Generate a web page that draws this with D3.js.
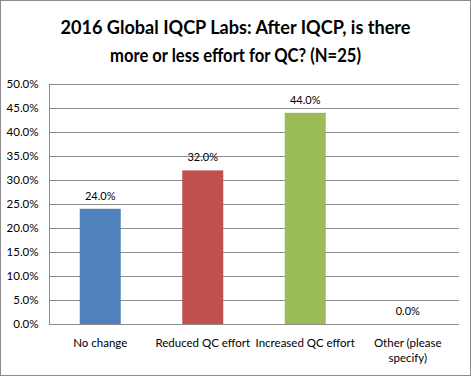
<!DOCTYPE html>
<html>
<head>
<meta charset="utf-8">
<script src="https://cdn.jsdelivr.net/npm/d3@7"></script>
<style>
  body { margin: 0; background: #fff; }
  svg { display: block; font-family: Lato, "Open Sans", sans-serif; }
</style>
</head>
<body>
<div id="wrapper"></div>
<script>
const categories = ["No change", "Reduced QC effort", "Increased QC effort", "Other (please specify)"];
const values = [0.24, 0.32, 0.44, 0.0];
const barColors = ["#4f81bd", "#c0504d", "#9bbb59", "#8064a2"];
const yTicks = [0, 0.05, 0.1, 0.15, 0.2, 0.25, 0.3, 0.35, 0.4, 0.45, 0.5];
const titleLines = ["2016 Global IQCP Labs: After IQCP, is there", "more or less effort for QC? (N=25)"];

const dimensions = {
  width: 471,
  height: 376,
  margin: { top: 84, right: 12, bottom: 52, left: 49 }
};
dimensions.boundedWidth = dimensions.width - dimensions.margin.left - dimensions.margin.right;
dimensions.boundedHeight = dimensions.height - dimensions.margin.top - dimensions.margin.bottom;

const wrapper = d3.select("#wrapper")
  .append("svg")
  .attr("width", dimensions.width)
  .attr("height", dimensions.height);

// outer chart border
wrapper.append("rect")
  .attr("x", 0.5).attr("y", 0.5)
  .attr("width", dimensions.width - 1)
  .attr("height", dimensions.height - 1)
  .attr("fill", "#fff")
  .attr("stroke", "#8c8c8c");

// title widths, font squeezed to fit
const titleWidths = [350, 251];
wrapper.append("g")
  .selectAll("text")
  .data(titleLines)
  .enter().append("text")
  .attr("x", dimensions.width / 2)
  .attr("y", (d, i) => 34 + i * 28)
  .attr("text-anchor", "middle")
  .attr("textLength", (d, i) => titleWidths[i])
  .attr("lengthAdjust", "spacingAndGlyphs")
  .style("font-size", "19px")
  .style("font-weight", "bold")
  .attr("fill", "#000")
  .text(d => d);

const bounds = wrapper.append("g")
  .attr("transform", `translate(${dimensions.margin.left},${dimensions.margin.top})`);

const xScale = d3.scaleBand()
  .domain(categories)
  .range([0, dimensions.boundedWidth])
  .paddingInner(0.6)
  .paddingOuter(0.3);

const yScale = d3.scaleLinear()
  .domain([0, 0.5])
  .range([dimensions.boundedHeight, 0]);

// gridlines
bounds.append("g")
  .selectAll("line")
  .data(yTicks.slice(1))
  .enter().append("line")
  .attr("x1", 0)
  .attr("x2", dimensions.boundedWidth)
  .attr("y1", d => Math.round(yScale(d)) + 0.5)
  .attr("y2", d => Math.round(yScale(d)) + 0.5)
  .attr("stroke", "#8c8c8c");

const yAxis = bounds.append("g")
  .call(d3.axisLeft(yScale).tickValues(yTicks).tickFormat(d3.format(".1%")).tickSize(0).tickPadding(11))
  .attr("transform", "translate(0.5,0)");
yAxis.select(".domain").attr("stroke", "#8c8c8c").attr("d", `M0,${dimensions.boundedHeight}V0`);
yAxis.selectAll("text").style("font-size", "11.5px").attr("fill", "#000").attr("font-family", "Lato, sans-serif");

bounds.append("line")
  .attr("x1", 0)
  .attr("x2", dimensions.boundedWidth)
  .attr("y1", dimensions.boundedHeight + 0.5)
  .attr("y2", dimensions.boundedHeight + 0.5)
  .attr("stroke", "#8c8c8c");

bounds.append("g")
  .selectAll("rect")
  .data(categories)
  .enter().append("rect")
  .attr("x", d => xScale(d))
  .attr("y", (d, i) => yScale(values[i]))
  .attr("width", xScale.bandwidth())
  .attr("height", (d, i) => dimensions.boundedHeight - yScale(values[i]))
  .attr("fill", (d, i) => barColors[i]);

bounds.append("g")
  .selectAll("text")
  .data(categories)
  .enter().append("text")
  .attr("x", d => xScale(d) + xScale.bandwidth() / 2)
  .attr("y", (d, i) => yScale(values[i]) - 9)
  .attr("text-anchor", "middle")
  .style("font-size", "11px")
  .attr("fill", "#000")
  .text((d, i) => d3.format(".1%")(values[i]));

// category labels, wrapped into the band step
const step = xScale.step();
const catLabels = bounds.append("g")
  .selectAll("text")
  .data(categories)
  .enter().append("text")
  .attr("x", d => xScale(d) + xScale.bandwidth() / 2)
  .attr("y", dimensions.boundedHeight + 23)
  .attr("text-anchor", "middle")
  .style("font-size", "11.5px")
  .attr("fill", "#000");

catLabels.each(function(d) {
  const el = d3.select(this);
  const words = d.split(" ");
  let line = [];
  let tspan = el.append("tspan").attr("x", el.attr("x")).attr("dy", 0);
  words.forEach(w => {
    line.push(w);
    tspan.text(line.join(" "));
    if (tspan.node().getComputedTextLength() > step && line.length > 1) {
      line.pop();
      tspan.text(line.join(" "));
      line = [w];
      tspan = el.append("tspan").attr("x", el.attr("x")).attr("dy", 15).text(w);
    }
  });
});
</script>
</body>
</html>
